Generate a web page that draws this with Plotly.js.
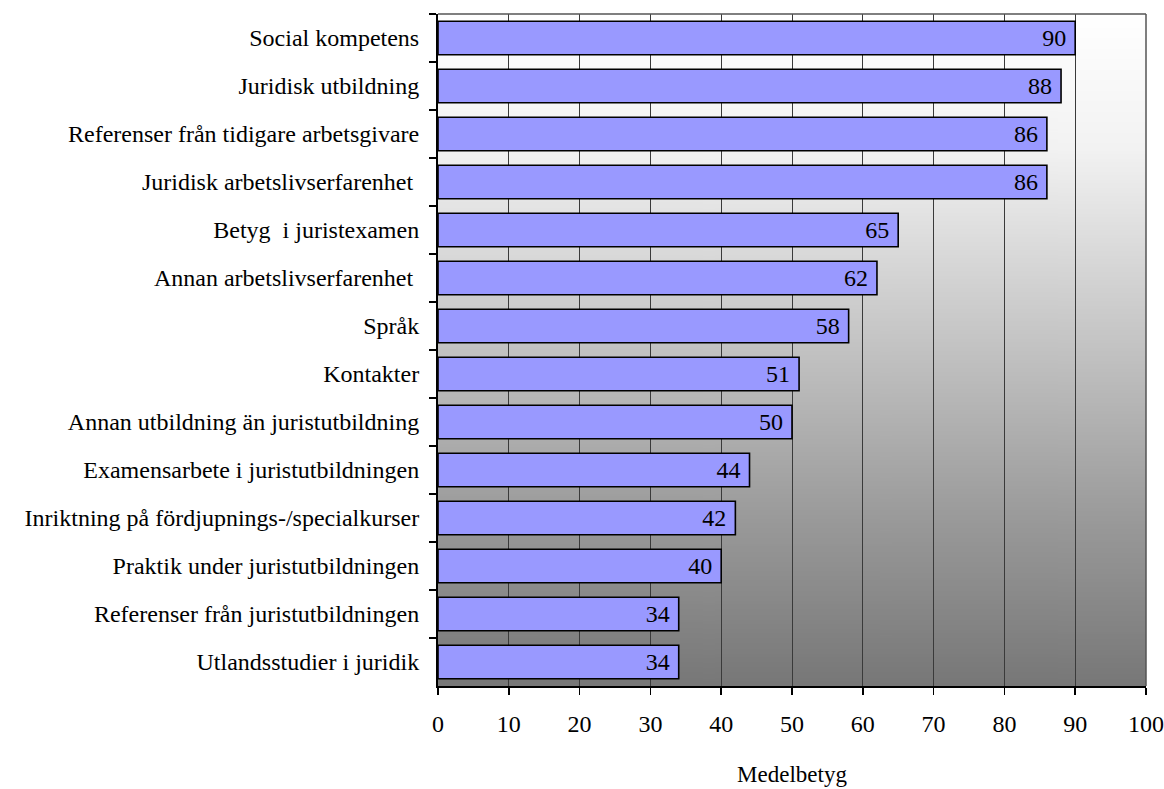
<!DOCTYPE html>
<html>
<head>
<meta charset="utf-8">
<script src="https://cdn.plot.ly/plotly-3.0.1.min.js"></script>
<style>
  html, body { margin: 0; padding: 0; background: #fff; }
  #chart { width: 1164px; height: 789px; }
</style>
</head>
<body>
<div id="chart"></div>
<script>
// Merits ranked by average rating (Medelbetyg), top to bottom
const categories = [
  "Social kompetens",
  "Juridisk utbildning",
  "Referenser från tidigare arbetsgivare",
  "Juridisk arbetslivserfarenhet ",
  "Betyg  i juristexamen",
  "Annan arbetslivserfarenhet ",
  "Språk",
  "Kontakter",
  "Annan utbildning än juristutbildning",
  "Examensarbete i juristutbildningen",
  "Inriktning på fördjupnings-/specialkurser",
  "Praktik under juristutbildningen",
  "Referenser från juristutbildningen",
  "Utlandsstudier i juridik"
];
const ratings = [90, 88, 86, 86, 65, 62, 58, 51, 50, 44, 42, 40, 34, 34];
const xTicks = [0, 10, 20, 30, 40, 50, 60, 70, 80, 90, 100];
const xAxisTitle = "Medelbetyg";

// Vertical white-to-grey backdrop for the plot area
function gradientImage() {
  const c = document.createElement("canvas");
  c.width = 4; c.height = 512;
  const ctx = c.getContext("2d");
  const g = ctx.createLinearGradient(0, 0, 0, 512);
  g.addColorStop(0, "#ffffff");
  g.addColorStop(0.2, "#f2f2f2");
  g.addColorStop(0.5, "#c2c2c2");
  g.addColorStop(0.75, "#9a9a9a");
  g.addColorStop(1, "#777777");
  ctx.fillStyle = g;
  ctx.fillRect(0, 0, 4, 512);
  return c.toDataURL("image/png");
}

const FONT = "Liberation Serif, Times New Roman, serif";

const trace = {
  type: "bar",
  orientation: "h",
  y: categories,
  x: ratings,
  marker: { color: "#9999ff", line: { color: "#000000", width: 1.6 } },
  text: ratings.map(v => String(v) + "\u00a0"),
  texttemplate: "%{text}",
  textposition: "inside",
  insidetextanchor: "end",
  constraintext: "none",
  textfont: { family: FONT, size: 24, color: "#000000" },
  hoverinfo: "skip"
};

const layout = {
  width: 1164,
  height: 789,
  margin: { l: 438, r: 18, t: 14, b: 103 },
  paper_bgcolor: "#ffffff",
  plot_bgcolor: "rgba(0,0,0,0)",
  bargap: 0.3,
  showlegend: false,
  font: { family: FONT, size: 24, color: "#000000" },
  xaxis: {
    range: [0, 100],
    tickvals: xTicks,
    ticktext: xTicks.map(String),
    showgrid: true,
    gridcolor: "#3a3a3a",
    gridwidth: 1,
    zeroline: false,
    showline: true,
    linecolor: "#000000",
    linewidth: 2,
    ticks: "outside",
    ticklen: 7,
    tickwidth: 1.5,
    tickcolor: "#000000",
    tickfont: { family: FONT, size: 24, color: "#000000" },
    ticklabelstandoff: 8,
    title: { text: xAxisTitle, font: { family: FONT, size: 23, color: "#000000" }, standoff: 30 },
    fixedrange: true
  },
  yaxis: {
    type: "category",
    categoryorder: "array",
    categoryarray: categories,
    autorange: "reversed",
    showgrid: false,
    zeroline: false,
    showline: true,
    linecolor: "#000000",
    linewidth: 2,
    ticks: "outside",
    tickson: "boundaries",
    ticklen: 7,
    tickwidth: 1.5,
    tickcolor: "#000000",
    tickfont: { family: FONT, size: 24, color: "#000000" },
    ticklabelstandoff: 12,
    fixedrange: true
  },
  images: [{
    source: gradientImage(),
    xref: "paper", yref: "paper",
    x: 0, y: 1, sizex: 1, sizey: 1,
    xanchor: "left", yanchor: "top",
    sizing: "stretch",
    layer: "below"
  }],
  shapes: [
    { type: "line", xref: "paper", yref: "paper", x0: 0, x1: 1, y0: 1, y1: 1,
      line: { color: "#555555", width: 1.5 } },
    { type: "line", xref: "paper", yref: "paper", x0: 1, x1: 1, y0: 0, y1: 1,
      line: { color: "#555555", width: 1.5 } }
  ]
};

Plotly.newPlot("chart", [trace], layout, { displayModeBar: false, staticPlot: true });
</script>
</body>
</html>
